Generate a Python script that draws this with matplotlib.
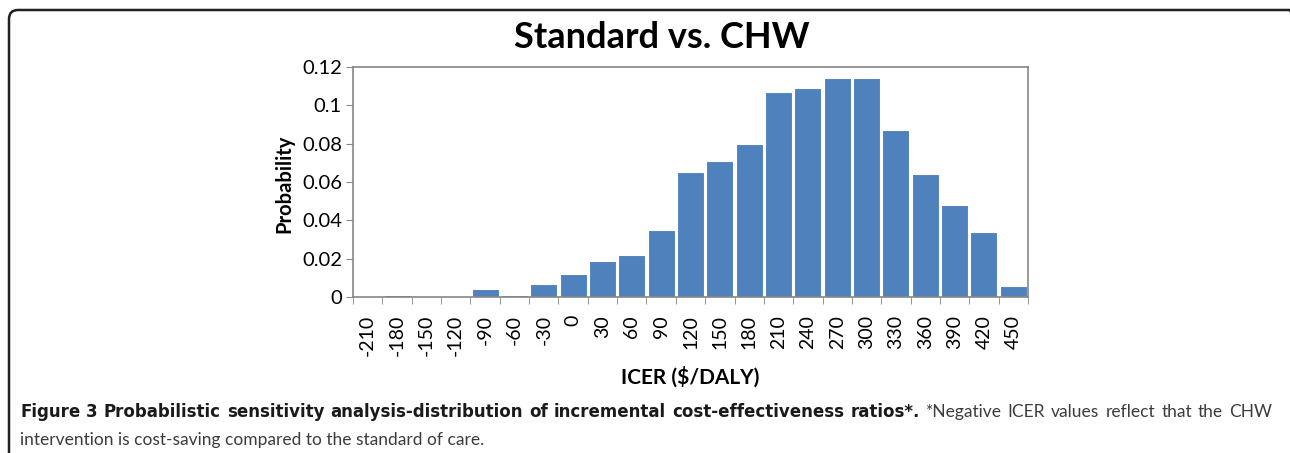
import matplotlib
matplotlib.use('Agg')
import matplotlib.pyplot as plt
from matplotlib.patches import FancyBboxPatch
import numpy as np

# ICER bins ($/DALY) and probability per bin
icer = [-210, -180, -150, -120, -90, -60, -30, 0, 30, 60, 90, 120, 150,
        180, 210, 240, 270, 300, 330, 360, 390, 420, 450]
prob = [0.0, 0.001, 0.0, 0.0, 0.004, 0.001, 0.007, 0.012, 0.019, 0.022,
        0.035, 0.065, 0.071, 0.080, 0.107, 0.109, 0.114, 0.114, 0.087,
        0.064, 0.048, 0.034, 0.006]
yticks = [0, 0.02, 0.04, 0.06, 0.08, 0.1, 0.12]
ytick_labels = ['0', '0.02', '0.04', '0.06', '0.08', '0.1', '0.12']

title = 'Standard vs. CHW'
caption_bold = 'Figure 3 Probabilistic sensitivity analysis-distribution of incremental cost-effectiveness ratios*.'
caption_rest1 = '*Negative ICER values reflect that the CHW'
caption_rest2 = 'intervention is cost-saving compared to the standard of care.'

plt.rcParams['font.family'] = ['Lato', 'DejaVu Sans']
grey = '#868686'
W, H = 1290, 453

fig = plt.figure(figsize=(W / 100, H / 100), dpi=100)
ax = fig.add_axes([353 / W, 1 - 297 / H, 675 / W, 230 / H])

x = np.arange(len(icer))
ax.bar(x, prob, width=0.92, color='#4F81BD', edgecolor='white', linewidth=0.8)
ax.set_xlim(-0.5, len(icer) - 0.5)
ax.set_ylim(0, 0.12)

ax.set_yticks(yticks)
ax.set_yticklabels(ytick_labels)
ax.set_xticks(x)
ax.set_xticklabels([str(v) for v in icer], rotation=90)
ax.set_xticks(np.arange(-0.5, len(icer), 1), minor=True)
ax.tick_params(axis='x', which='major', length=0, pad=13, labelsize=14)
ax.tick_params(axis='x', which='minor', length=5, color=grey, direction='out')
ax.tick_params(axis='y', length=5, color=grey, labelsize=14.5, pad=3)

for s in ax.spines.values():
    s.set_color(grey)
    s.set_linewidth(1.2)

# title centred over the whole chart area, not just the axes
fig.text(662 / W, 1 - 48 / H, title, fontsize=26, fontweight='bold',
         ha='center', va='baseline')
ax.set_ylabel('Probability', fontsize=14.5, fontweight='bold')
ax.yaxis.set_label_coords((284 - 353) / 675, 0.49)
ax.yaxis.label.set_va('center')
ax.set_xlabel('ICER ($/DALY)', fontsize=15, fontweight='bold')
ax.xaxis.set_label_coords(0.5, -(377 - 297) / 230)
ax.xaxis.label.set_va('center')

# rounded frame around the figure panel (right and bottom run off the image)
frame = FancyBboxPatch((9 / W, -0.2), 1290 / W, 1 - 10 / H + 0.2,
                       boxstyle='round,pad=0,rounding_size=0.007',
                       transform=fig.transFigure, fill=False,
                       edgecolor='#222222', linewidth=1.8,
                       mutation_aspect=W / H)
fig.patches.append(frame)

# caption: first line justified between x=20 and x=1272
words = [(w, 'bold') for w in caption_bold.split()] + \
        [(w, 'normal') for w in caption_rest1.split()]
fig.canvas.draw()
r = fig.canvas.get_renderer()
arts = []
for w, wt in words:
    if wt == 'bold':
        a = fig.text(0, 1 - 412 / H, w, fontsize=12, fontweight='bold',
                     family=['DejaVu Sans'], va='center', color='#1a1a1a')
    else:
        a = fig.text(0, 1 - 412 / H, w, fontsize=12.5,
                     family=['Lato', 'DejaVu Sans'], va='center', color='#3c3c3c')
    arts.append(a)
widths = [a.get_window_extent(r).width for a in arts]
gap = (1272 - 20 - sum(widths)) / (len(arts) - 1)
xpos = 20
for a, wd in zip(arts, widths):
    a.set_x(xpos / W)
    xpos += wd + gap
fig.text(20 / W, 1 - 440 / H, caption_rest2, fontsize=12.5,
         family=['Lato', 'DejaVu Sans'], va='center', color='#3c3c3c')

fig.savefig('out.png', dpi=100)
